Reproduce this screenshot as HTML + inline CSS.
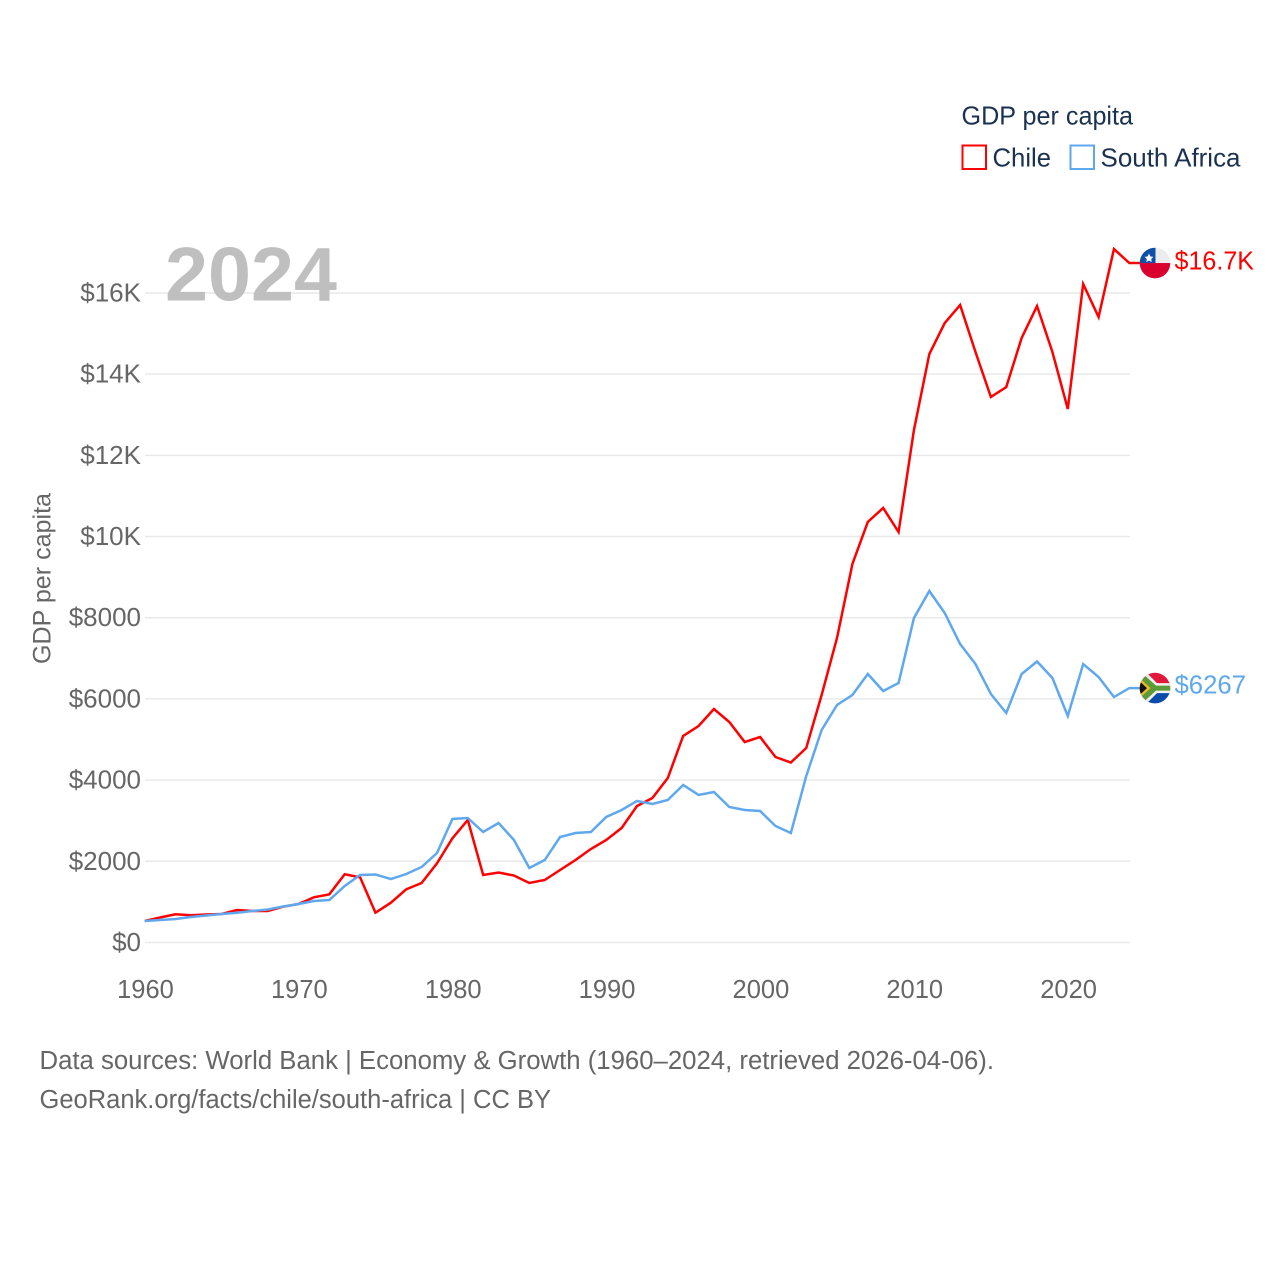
<!DOCTYPE html>
<html lang="en">
<head>
<meta charset="utf-8">
<title>GDP per capita: Chile and South Africa</title>
<style>
html,body{margin:0;padding:0;background:#fff;}
svg{display:block;font-family:"Liberation Sans",sans-serif;}
</style>
</head>
<body>
<svg id="chart" xmlns="http://www.w3.org/2000/svg" width="1280" height="1280" viewBox="0 0 1280 1280">
  <defs>
    <clipPath id="flag-clip"><circle cx="0" cy="0" r="15.3"/></clipPath>
  </defs>
  <rect x="0" y="0" width="1280" height="1280" fill="#ffffff"/>
  <g id="grid"></g>
  <g id="yticks"></g>
  <g id="xticks"></g>
  <text x="165" y="300.5" font-size="76" font-weight="700" fill="#bfbfbf" textLength="172" lengthAdjust="spacingAndGlyphs">2024</text>
  <text transform="translate(50.5,664) rotate(-90)" font-size="25" fill="#666666" textLength="171" lengthAdjust="spacingAndGlyphs">GDP per capita</text>
  <g id="series"></g>

  <g id="flag-chile">
    <g clip-path="url(#flag-clip)">
      <rect x="-16" y="-16" width="32" height="16" fill="#ececec"/>
      <rect x="-16" y="0" width="32" height="16" fill="#d9002f"/>
      <rect x="-16" y="-16" width="16.5" height="16" fill="#0f4fa8"/>
      <polygon fill="#ffffff" points="-6,-9.5 -4.6,-6.6 -1.6,-6.2 -3.8,-4 -3.3,-1 -6,-2.4 -8.7,-1 -8.2,-4 -10.4,-6.2 -7.4,-6.6"/>
    </g>
  </g>
  <g id="flag-sa">
    <g clip-path="url(#flag-clip)">
      <rect x="-16" y="-16" width="32" height="16" fill="#e0193c"/>
      <rect x="-16" y="0" width="32" height="16" fill="#0a4bab"/>
      <polygon fill="#f2f2f2" points="-16,-16 -9,-16 2,-5 16,-5 16,5 2,5 -9,16 -16,16"/>
      <polygon fill="#5f9a3a" points="-16,-13.5 -11,-13.5 1,-2.5 16,-2.5 16,2.5 1,2.5 -11,13.5 -16,13.5"/>
      <polygon fill="#f3bb22" points="-16,-10.5 -4.5,0 -16,10.5"/>
      <polygon fill="#111111" points="-16,-7.5 -8,0 -16,7.5"/>
    </g>
  </g>
  <text id="label-chile" x="1174.5" font-size="26" fill="#ff0000" textLength="79.5" lengthAdjust="spacingAndGlyphs"></text>
  <text id="label-sa" x="1174.5" font-size="26" fill="#5fa8ee" textLength="71.5" lengthAdjust="spacingAndGlyphs"></text>

  <g>
    <text x="961.5" y="124.5" font-size="26" fill="#1a3150" textLength="171.5" lengthAdjust="spacingAndGlyphs">GDP per capita</text>
    <g>
      <rect x="962.5" y="145.5" width="23.5" height="23.5" fill="none" stroke="#ff0000" stroke-width="2"/>
      <text x="992.5" y="166.5" font-size="26" fill="#1a3150" textLength="58.5" lengthAdjust="spacingAndGlyphs">Chile</text>
    </g>
    <g>
      <rect x="1070.5" y="145.5" width="23.5" height="23.5" fill="none" stroke="#5fa8ee" stroke-width="2"/>
      <text x="1100.5" y="166.5" font-size="26" fill="#1a3150" textLength="140" lengthAdjust="spacingAndGlyphs">South Africa</text>
    </g>
  </g>

  <text x="39.5" y="1069" font-size="25.5" fill="#666666" textLength="954.5" lengthAdjust="spacingAndGlyphs">Data sources: World Bank | Economy &amp; Growth (1960–2024, retrieved 2026-04-06).</text>
  <text x="39.5" y="1108" font-size="25.5" fill="#666666" textLength="511.5" lengthAdjust="spacingAndGlyphs">GeoRank.org/facts/chile/south-africa | CC BY</text>
</svg>
<script>
const firstYear = 1960;
const chileValues = [530,616,695,670,690,702,800,776,776,882,948,1113,1187,1680,1606,734,980,1311,1466,1951,2567,3018,1663,1724,1650,1466,1540,1786,2032,2303,2525,2821,3363,3560,4052,5087,5333,5752,5432,4939,5062,4570,4434,4791,6097,7504,9325,10359,10704,10112,12625,14497,15260,15704,14546,13438,13684,14891,15679,14546,13142,16221,15408,17083,16738];
const southAfricaValues = [530,554,579,628,665,702,734,776,813,887,948,1022,1047,1392,1663,1675,1564,1687,1860,2205,3042,3067,2722,2944,2525,1835,2032,2599,2697,2722,3092,3264,3486,3412,3510,3880,3634,3707,3338,3264,3239,2870,2697,4102,5235,5851,6097,6614,6195,6393,7994,8659,8117,7353,6860,6122,5654,6614,6922,6516,5580,6860,6540,6047,6267];
const yTickValues = [0,2000,4000,6000,8000,10000,12000,14000,16000];
const yTickLabels = ["$0","$2000","$4000","$6000","$8000","$10K","$12K","$14K","$16K"];
const xTickValues = [1960,1970,1980,1990,2000,2010,2020];
const chileEndLabel = "$16.7K";
const southAfricaEndLabel = "$6267";

const NS = "http://www.w3.org/2000/svg";
function xScale(year){ return 144.7 + (year - 1960) * 15.385; }
function yScale(value){ return 942.5 - value * 0.040594; }

const grid = document.getElementById("grid");
const yticks = document.getElementById("yticks");
const xticks = document.getElementById("xticks");
const series = document.getElementById("series");

yTickValues.forEach(function(v, i){
  const line = document.createElementNS(NS, "line");
  
  
  line.setAttribute("x1", 145);
  line.setAttribute("x2", 1130);
  line.setAttribute("y1", yScale(v));
  line.setAttribute("y2", yScale(v));
  line.setAttribute("stroke", "#e9e9e9");
  line.setAttribute("stroke-width", 1.5);
  grid.appendChild(line);

  const t = document.createElementNS(NS, "text");
  
  
  t.setAttribute("x", 141);
  t.setAttribute("y", yScale(v) + 8.5);
  t.setAttribute("text-anchor", "end");
  t.setAttribute("font-size", 26);
  t.setAttribute("fill", "#666666");
  t.textContent = yTickLabels[i];
  yticks.appendChild(t);
});

xTickValues.forEach(function(y){
  const t = document.createElementNS(NS, "text");
  
  
  t.setAttribute("x", xScale(y) + 0.8);
  t.setAttribute("y", 998);
  t.setAttribute("text-anchor", "middle");
  t.setAttribute("font-size", 25.5);
  t.setAttribute("fill", "#666666");
  t.textContent = String(y);
  xticks.appendChild(t);
});

function pathFor(values){
  return values.map(function(v, i){
    return (i ? "L" : "M") + xScale(firstYear + i).toFixed(2) + " " + yScale(v).toFixed(2);
  }).join(" ");
}

const chilePath = document.createElementNS(NS, "path");


chilePath.setAttribute("d", pathFor(chileValues) + " H1140");
chilePath.setAttribute("fill", "none");
chilePath.setAttribute("stroke", "#ff0000");
chilePath.setAttribute("stroke-width", 2.5);
chilePath.setAttribute("stroke-linejoin", "miter");
series.appendChild(chilePath);

const saPath = document.createElementNS(NS, "path");


saPath.setAttribute("d", pathFor(southAfricaValues) + " H1140");
saPath.setAttribute("fill", "none");
saPath.setAttribute("stroke", "#5fa8ee");
saPath.setAttribute("stroke-width", 2.5);
saPath.setAttribute("stroke-linejoin", "miter");
series.appendChild(saPath);

const chileLast = yScale(chileValues[chileValues.length - 1]);
const saLast = yScale(southAfricaValues[southAfricaValues.length - 1]);
document.getElementById("flag-chile").setAttribute("transform", "translate(1155," + chileLast + ")");
document.getElementById("flag-sa").setAttribute("transform", "translate(1155," + saLast + ")");
const labelChile = document.getElementById("label-chile");
labelChile.setAttribute("y", chileLast + 6.5);
labelChile.textContent = chileEndLabel;
const labelSa = document.getElementById("label-sa");
labelSa.setAttribute("y", saLast + 5.5);
labelSa.textContent = southAfricaEndLabel;
</script>
</body>
</html>
